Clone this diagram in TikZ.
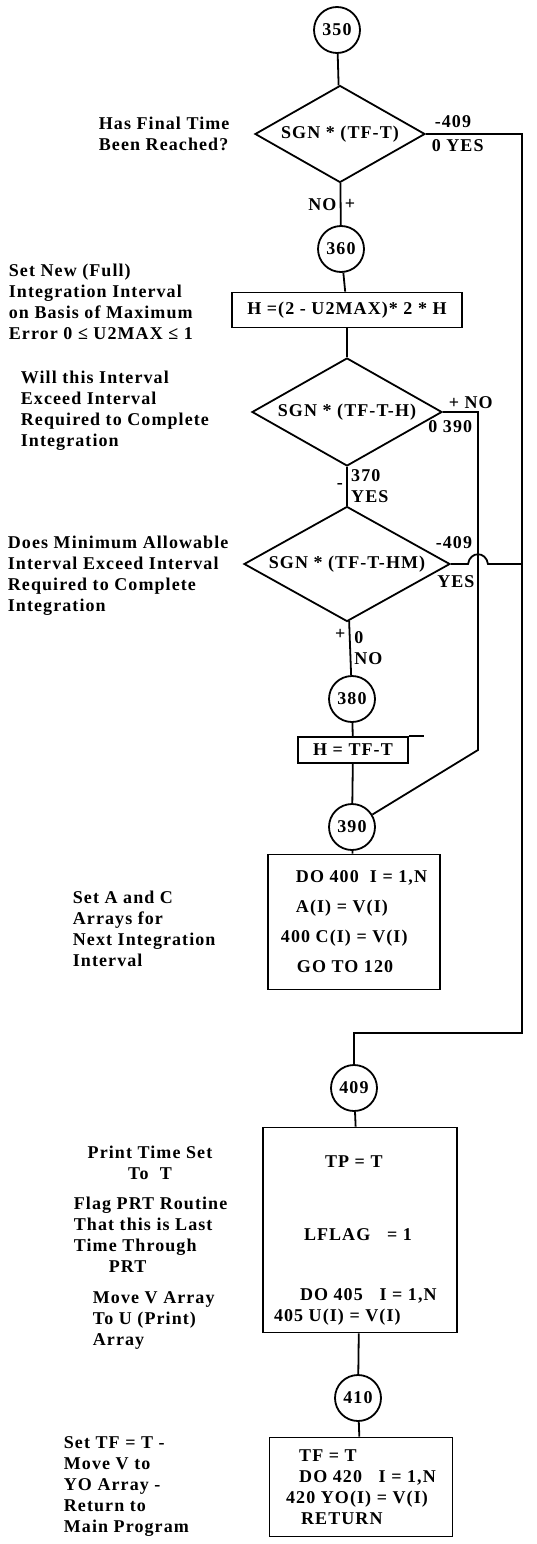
\documentclass[tikz,border=0pt]{standalone}
\usepackage{fontspec}
\setmainfont{Liberation Serif}[LetterSpace=6]
\usetikzlibrary{shapes.geometric}

\begin{document}
\begin{tikzpicture}[x=1pt,y=-1pt,line width=1.8pt,
    every node/.style={font=\fontsize{18}{21}\selectfont\bfseries},
    conn/.style={draw,circle,minimum size=46pt,inner sep=0pt},
    test/.style={draw,diamond,shape aspect=1.8,inner sep=0pt},
    box/.style={draw,rectangle,inner sep=0pt},
    note/.style={anchor=north west,align=left,inner sep=0pt},
    lab/.style={inner sep=2pt}]
    \useasboundingbox (0,0) rectangle (537,1544);
    \node[conn] (c350) at (337,30) {350};
    \node[test,minimum width=170pt,minimum height=97pt] (d1) at (340,134) {SGN * (TF-T)};
    \node[conn] (c360) at (341,249) {360};
    \node[box,minimum width=230pt,minimum height=35pt] (b1) at (347,310) {H =(2 - U2MAX)* 2 * H};
    \node[test,minimum width=190pt,minimum height=108pt] (d2) at (347,412) {SGN * (TF-T-H)};
    \node[test,minimum width=206pt,minimum height=115pt] (d3) at (347,564) {SGN * (TF-T-HM)};
    \node[conn] (c380) at (352,699) {380};
    \node[box,minimum width=110pt,minimum height=26pt] (b2) at (353,750) {H = TF-T};
    \node[conn] (c390) at (352,827) {390};
    \node[box,minimum width=172pt,minimum height=135pt,align=left,font=\fontsize{18}{30}\selectfont\bfseries] (b3) at (354,922)
        {\hspace*{15pt}DO 400\ \ I = 1,N\\ \hspace*{15pt}A(I) = V(I)\\400 C(I) = V(I)\\ \hspace*{16pt}GO TO 120};
    \node[conn] (c409) at (354,1088) {409};
    \node[box,minimum width=194pt,minimum height=205pt] (b4) at (360,1230) {};
    \node[note] (t4) at ([xshift=11pt,yshift=-28pt]b4.north west)
        {\hspace*{51pt}TP = T\\[52pt]\hspace*{30pt}LFLAG\ \ \ = 1\\[39pt]\hspace*{26pt}DO 405\ \ \ I = 1,N\\405 U(I) = V(I)};
    \node[conn] (c410) at (358,1398) {410};
    \node[box,minimum width=183pt,minimum height=99pt,align=left] (b5) at (361,1487)
        {\hspace*{13pt}TF = T\\ \hspace*{13pt}DO 420\ \ \ I = 1,N\\420 YO(I) = V(I)\\ \hspace*{15pt}RETURN};

    \draw (c350) -- (d1);
    \draw (d1) -- node[left]{NO} node[right]{+} (c360);
    \draw (c360) -- (b1);
    \draw (b1) -- (d2);
    \draw (d2) -- node[left]{-} node[right,align=left]{370\\YES} (d3);
    \draw (d3) -- node[pos=0.25,left]{+} node[right,align=left]{0\\NO} (c380);
    \draw (c380) -- (b2);
    \draw (b2.north east) -- ++(15,0);
    \draw (b2) -- (c390);
    \draw (c390) -- (b3);
    \draw (c409) -- (b4);
    \draw (b4) -- (c410);
    \draw (c410) -- (b5);

    \coordinate (r1) at (522,134);
    \coordinate (r2) at (522,1033);
    \draw (d1.east) -- (r1) -- (r2) -- (r2 -| c409) -- (c409);
    \node[lab,anchor=south west] at ([xshift=6pt,yshift=3pt]d1.east) {-409};
    \node[lab,anchor=north west] at ([xshift=3pt,yshift=-3pt]d1.east) {0 YES};

    \coordinate (k2) at (478,750);
    \coordinate (k1) at (d2.east -| k2);
    \draw (d2.east) -- (k1) -- (k2) -- (c390);
    \node[lab,anchor=south west] at ([xshift=3pt]d2.east) {+ NO};
    \node[lab,anchor=north east] at ([xshift=-3pt,yshift=-6pt]k1) {0 390};

    \coordinate (hL) at (468,564);
    \coordinate (hR) at (488,564);
    \draw (d3.east) -- (hL) .. controls (470,551) and (486,551) .. (hR) -- (hR -| r1);
    \node[lab,anchor=south] at ([xshift=3pt,yshift=12pt]d3.east) {-409};
    \node[lab,anchor=north] at ([xshift=5pt,yshift=-9pt]d3.east) {YES};

    \node[note] (n1) at (98,116) {Has Final Time\\Been Reached?};
    \node[note] (n2) at (8,263) {Set New (Full)\\Integration Interval\\on Basis of Maximum\\Error 0 ≤ U2MAX ≤ 1};
    \node[note] (n3) at (20,370) {Will this Interval\\Exceed Interval\\Required to Complete\\Integration};
    \node[note] (n4) at (7,535) {Does Minimum Allowable\\Interval Exceed Interval\\Required to Complete\\Integration};
    \node[note] (n5) at (72,890) {Set A and C\\Arrays for\\Next Integration\\Interval};
    \node[note,anchor=north,align=center] (n6) at (150,1145) {Print Time Set\\To\ \ T};
    \node[note] (n7) at (73,1196) {Flag PRT Routine\\That this is Last\\Time Through\\ \hspace*{35pt}PRT};
    \node[note] (n8) at (92,1291) {Move V Array\\To U (Print)\\Array};
    \node[note] (n9) at (63,1436) {Set TF = T -\\Move V to\\YO Array -\\Return to\\Main Program};
\end{tikzpicture}
\end{document}
